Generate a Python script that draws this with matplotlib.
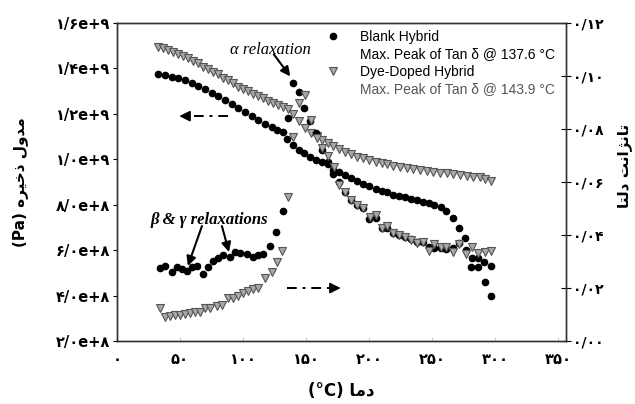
import matplotlib
matplotlib.use('Agg')
import matplotlib.pyplot as plt
from matplotlib.lines import Line2D

# ---- data ----
# Blank hybrid, storage modulus (Pa)
blank_T = [32.5, 38.1, 43.7, 48.4, 54.0, 59.5, 64.3, 69.8, 75.4, 80.2, 85.7, 91.3, 96.0,
           101.6, 107.1, 111.9, 117.5, 123.0, 127.0, 131.7, 134.9, 139.7, 144.4, 148.4,
           153.2, 157.9, 162.7, 167.5, 171.4, 176.2, 181.0, 185.7, 190.5, 195.2, 200.0,
           205.6, 210.3, 214.3, 219.0, 223.8, 228.6, 233.3, 238.1, 242.9, 247.6, 251.6,
           257.1, 261.1, 266.7, 271.4, 276.2, 281.7, 286.5, 292.1, 296.8]
blank_E = [1.375, 1.371, 1.362, 1.358, 1.349, 1.336, 1.323, 1.309, 1.292, 1.279, 1.261,
           1.243, 1.226, 1.208, 1.191, 1.173, 1.155, 1.142, 1.129, 1.120, 1.089, 1.063,
           1.041, 1.028, 1.010, 0.997, 0.988, 0.979, 0.953, 0.944, 0.931, 0.918, 0.904,
           0.891, 0.882, 0.869, 0.860, 0.856, 0.843, 0.838, 0.834, 0.825, 0.821, 0.812,
           0.807, 0.799, 0.790, 0.772, 0.741, 0.697, 0.653, 0.565, 0.526, 0.460, 0.398]

# Blank hybrid, tan delta
blank_tT = [34.1, 38.1, 43.7, 47.6, 51.6, 55.6, 59.5, 63.5, 68.3, 72.2, 76.2, 80.2, 84.1,
            89.7, 93.7, 97.6, 103.2, 107.9, 111.9, 115.9, 121.4, 126.2, 131.7, 135.7,
            139.7, 144.4, 148.4, 153.2, 157.9, 162.7, 167.5, 171.4, 176.2, 181.0, 185.7,
            190.5, 195.2, 200.0, 205.6, 210.3, 214.3, 219.0, 223.8, 228.6, 233.3, 238.1,
            242.9, 247.6, 251.6, 257.1, 261.1, 266.7, 271.4, 277.0, 281.0, 286.5, 291.3,
            296.8]
blank_tan = [0.0276, 0.0283, 0.0260, 0.0279, 0.0272, 0.0264, 0.0279, 0.0283, 0.0253,
             0.0279, 0.0302, 0.0313, 0.0325, 0.0317, 0.0336, 0.0332, 0.0328, 0.0317,
             0.0325, 0.0328, 0.0359, 0.0411, 0.0491, 0.0842, 0.0974, 0.0940, 0.0879,
             0.0830, 0.0785, 0.0721, 0.0676, 0.0630, 0.0600, 0.0562, 0.0532, 0.0513,
             0.0502, 0.0460, 0.0464, 0.0426, 0.0426, 0.0408, 0.0400, 0.0392, 0.0385,
             0.0374, 0.0374, 0.0355, 0.0351, 0.0351, 0.0347, 0.0351, 0.0370, 0.0343,
             0.0279, 0.0313, 0.0298, 0.0283]

# Dye-doped hybrid, storage modulus (Pa)
dye_T = [32.5, 36.5, 40.5, 44.4, 48.4, 52.4, 56.3, 60.3, 64.3, 68.3, 72.2, 76.2, 80.2,
         84.1, 88.1, 92.1, 96.0, 100.0, 104.0, 107.9, 111.9, 115.9, 119.8, 123.8, 127.8,
         131.7, 135.7, 139.7, 144.4, 149.2, 154.0, 158.7, 162.7, 167.5, 171.4, 176.2,
         181.0, 185.7, 190.5, 195.2, 200.0, 205.6, 210.3, 214.3, 219.0, 224.6, 230.2,
         234.9, 240.5, 246.0, 250.8, 256.3, 261.9, 266.7, 272.2, 277.8, 282.5, 288.1,
         292.1, 296.8]
dye_E = [1.494, 1.490, 1.481, 1.472, 1.464, 1.455, 1.446, 1.433, 1.424, 1.406, 1.397,
         1.384, 1.375, 1.358, 1.349, 1.336, 1.318, 1.309, 1.301, 1.287, 1.279, 1.270,
         1.257, 1.248, 1.239, 1.230, 1.221, 1.199, 1.169, 1.138, 1.116, 1.102, 1.085,
         1.072, 1.058, 1.045, 1.032, 1.023, 1.010, 1.006, 0.997, 0.988, 0.984, 0.979,
         0.970, 0.966, 0.962, 0.957, 0.953, 0.948, 0.944, 0.940, 0.940, 0.935, 0.931,
         0.926, 0.922, 0.922, 0.913, 0.904]

# Dye-doped hybrid, tan delta
dye_tT = [34.1, 38.1, 42.1, 46.0, 50.0, 54.0, 57.9, 61.9, 65.9, 69.8, 73.8, 79.4, 83.3,
          88.1, 92.1, 96.0, 100.0, 104.0, 107.9, 111.9, 117.5, 123.0, 127.0, 131.0, 135.7,
          139.7, 144.4, 149.2, 154.0, 158.7, 162.7, 167.5, 172.2, 176.2, 181.0, 185.7,
          190.5, 195.2, 200.8, 205.6, 210.3, 214.3, 219.0, 223.8, 228.6, 233.3, 238.1,
          242.9, 247.6, 251.6, 257.1, 261.1, 266.7, 271.4, 277.0, 281.7, 286.5, 292.1,
          296.8]
dye_tan = [0.0125, 0.0091, 0.0094, 0.0098, 0.0098, 0.0102, 0.0106, 0.0109, 0.0109,
           0.0125, 0.0125, 0.0132, 0.0136, 0.0162, 0.0162, 0.0170, 0.0181, 0.0189,
           0.0196, 0.0200, 0.0238, 0.0260, 0.0298, 0.0340, 0.0543, 0.0770, 0.0898,
           0.0928, 0.0834, 0.0766, 0.0728, 0.0698, 0.0657, 0.0589, 0.0562, 0.0532,
           0.0513, 0.0502, 0.0468, 0.0476, 0.0426, 0.0434, 0.0408, 0.0400, 0.0392,
           0.0381, 0.0370, 0.0374, 0.0340, 0.0366, 0.0355, 0.0355, 0.0336, 0.0366,
           0.0328, 0.0355, 0.0332, 0.0336, 0.0340]

# tick labels (Persian digits, as displayed)
x_ticks = [0, 50, 100, 150, 200, 250, 300, 350]
x_labels = ['۰', '۵۰', '۱۰۰', '۱۵۰', '۲۰۰', '۲۵۰', '۳۰۰', '۳۵۰']
y_ticks = [2e8, 4e8, 6e8, 8e8, 1.0e9, 1.2e9, 1.4e9, 1.6e9]
y_labels = ['۲/۰e+۸', '۴/۰e+۸', '۶/۰e+۸', '۸/۰e+۸', '۱/۰e+۹', '۱/۲e+۹', '۱/۴e+۹', '۱/۶e+۹']
y2_ticks = [0.0, 0.02, 0.04, 0.06, 0.08, 0.10, 0.12]
y2_labels = ['۰/۰۰', '۰/۰۲', '۰/۰۴', '۰/۰۶', '۰/۰۸', '۰/۱۰', '۰/۱۲']

# Persian labels in visual order with presentation forms (no shaping engine)
xlabel_txt = '(°C) ' + '\uFE8E\uFEE3\uFEA9'
ylabel_txt = '(Pa) ' + '\uFEE9\uFEAE\uFEF4\uFEA7\uFEAB' + ' ' + '\uFEDD\uFEED\uFEAA\uFEE3'
y2label_txt = '\uFE8E\uFE98\uFEDF\uFEA9' + ' ' + '\uFE96\uFEE7\uFE8D\uFB8B\uFEE7\uFE8E\uFE97'

fig = plt.figure(figsize=(6.35, 4.04), dpi=100)
ax = fig.add_axes([0.184, 0.156, 0.707, 0.787])
ax2 = ax.twinx()

circ = dict(marker='o', linestyle='none', markersize=4.5, color='black')
tri = dict(marker='v', linestyle='none', markersize=5.2, markerfacecolor='#a8a8a8',
           markeredgecolor='#555555', markeredgewidth=0.8)

ax.plot(blank_T, [e * 1e9 for e in blank_E], **circ)
ax.plot(dye_T, [e * 1e9 for e in dye_E], **tri)
ax2.plot(blank_tT, blank_tan, **circ)
ax2.plot(dye_tT, dye_tan, **tri)

ax.set_xlim(0, 356)
ax.set_ylim(2e8, 1.6e9)
ax2.set_ylim(0, 0.12)

tick_font = dict(family='DejaVu Sans', weight='bold', size=10.5)
ax.set_xticks(x_ticks)
ax.set_xticklabels(x_labels, fontdict=tick_font)
ax.set_yticks(y_ticks)
ax.set_yticklabels(y_labels, fontdict=tick_font)
ax2.set_yticks(y2_ticks)
ax2.set_yticklabels(y2_labels, fontdict=dict(family='DejaVu Sans', weight='bold', size=10))

ax.tick_params(axis='x', direction='in', length=3, color='#cccccc', pad=8)
ax.tick_params(axis='y', direction='out', length=3, pad=2)
ax2.tick_params(axis='y', direction='inout', length=7, pad=2)

for a in (ax, ax2):
    for s in a.spines.values():
        s.set_color('#333333')
        s.set_linewidth(1.0)

ax.set_xlabel(xlabel_txt, family='DejaVu Sans', weight='bold', size=12)
ax.xaxis.set_label_coords(0.5, -0.13)
ax.set_ylabel(ylabel_txt, family='DejaVu Sans', weight='bold', size=11)
ax.yaxis.set_label_coords(-0.198, 0.5)
ax2.set_ylabel(y2label_txt, family='DejaVu Sans', weight='bold', size=11, rotation=90)
ax2.yaxis.set_label_coords(1.115, 0.55)

# legend: marker on first line of each entry
blank_h = Line2D([], [], **circ)
dye_h = Line2D([], [], **tri)
empty = Line2D([], [], linestyle='none')
leg = ax2.legend([blank_h, empty, dye_h, empty],
                 ['Blank Hybrid', 'Max. Peak of Tan δ @ 137.6 °C',
                  'Dye-Doped Hybrid', 'Max. Peak of Tan δ @ 143.9 °C'],
                 loc='upper left', bbox_to_anchor=(0.445, 1.005), frameon=False,
                 prop=dict(family='Liberation Sans', size=10), labelspacing=0.25,
                 handlelength=1.2, handletextpad=1.3, borderaxespad=0.2)
leg.get_texts()[3].set_color('#555555')

# annotations
arrow = dict(arrowstyle='-|>', color='black', lw=1.5, mutation_scale=14,
             shrinkA=0, shrinkB=0)
ax.text(122, 1.483e9, 'α relaxation', ha='center', va='center',
        family='Liberation Serif', style='italic', size=12)
ax.annotate('', xy=(137.5, 1.365e9), xytext=(124.5, 1.462e9), arrowprops=arrow)
ax.text(73, 0.733e9, 'β & γ relaxations', ha='center', va='center',
        family='Liberation Serif', style='italic', weight='bold', size=12)
ax.annotate('', xy=(56.3, 0.530e9), xytext=(67.5, 0.706e9), arrowprops=arrow)
ax.annotate('', xy=(88.9, 0.592e9), xytext=(83.3, 0.706e9), arrowprops=arrow)

# dash-dot direction arrows
dd = (0, (5, 3, 1.5, 3))
ax.plot([88.1, 55], [1.19e9, 1.19e9], color='black', lw=1.4, linestyle=dd)
ax.annotate('', xy=(49.5, 1.19e9), xytext=(57, 1.19e9),
            arrowprops=dict(arrowstyle='-|>', color='black', lw=1.2, mutation_scale=16,
                            shrinkA=0, shrinkB=0))
ax.plot([134.9, 170], [0.433e9, 0.433e9], color='black', lw=1.4, linestyle=dd)
ax.annotate('', xy=(177.5, 0.433e9), xytext=(170, 0.433e9),
            arrowprops=dict(arrowstyle='-|>', color='black', lw=1.2, mutation_scale=16,
                            shrinkA=0, shrinkB=0))

fig.savefig('out.png', dpi=100)
